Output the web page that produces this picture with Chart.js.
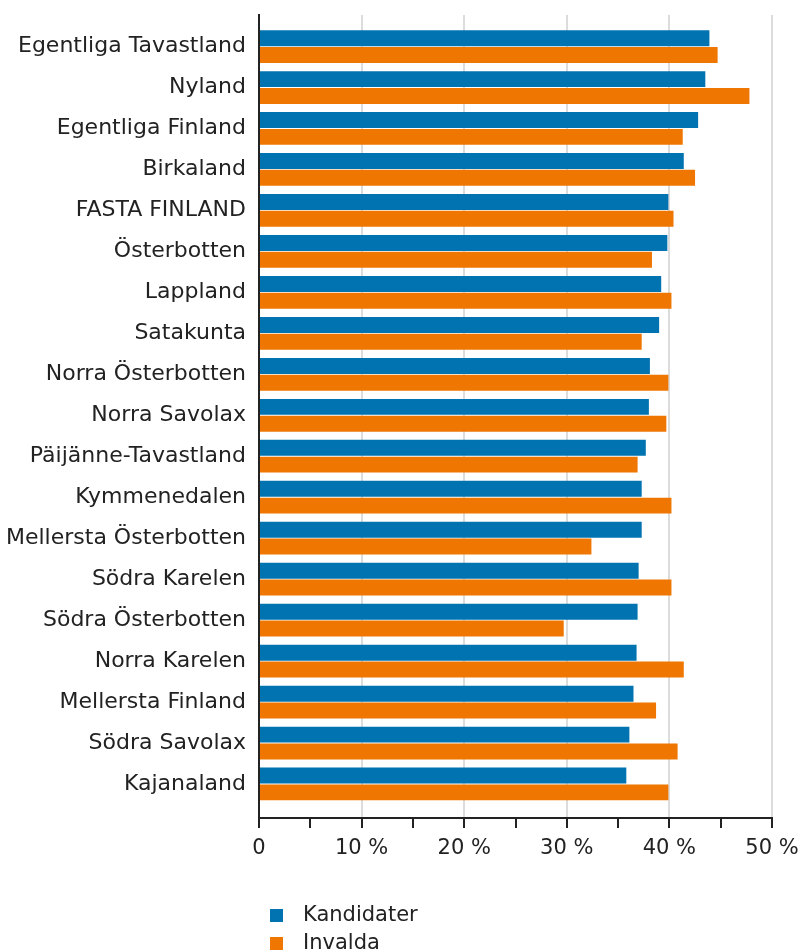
<!DOCTYPE html>
<html lang="sv">
<head>
<meta charset="UTF-8">
<title>Kandidater och invalda</title>
<script src="https://cdn.jsdelivr.net/npm/chart.js"></script>
<style>
    body { margin: 0; background: #fff; }
    .wrap { position: relative; width: 799px; height: 952px; }
    .legend { position: absolute; left: 270px; top: 900px; font-family: "DejaVu Sans", sans-serif; font-size: 21px; color: #222; }
    .legend div { height: 28px; line-height: 28px; white-space: nowrap; }
    .legend span { display: inline-block; width: 13px; height: 13px; margin-right: 20px; vertical-align: -1px; }
</style>
</head>
<body>
<div class="wrap">
    <canvas id="chart_val" width="799" height="952"></canvas>
    <div class="legend" id="legenda"></div>
</div>

<script>
// landskap, sorterade som i originalet
var landskap = ['Egentliga Tavastland', 'Nyland', 'Egentliga Finland', 'Birkaland', 'FASTA FINLAND',
    'Österbotten', 'Lappland', 'Satakunta', 'Norra Österbotten', 'Norra Savolax', 'Päijänne-Tavastland',
    'Kymmenedalen', 'Mellersta Österbotten', 'Södra Karelen', 'Södra Österbotten', 'Norra Karelen',
    'Mellersta Finland', 'Södra Savolax', 'Kajanaland'];

// andel kvinnor, %
var kandidater = [43.9, 43.5, 42.8, 41.4, 39.9, 39.8, 39.2, 39.0, 38.1, 38.0, 37.7, 37.3, 37.3, 37.0, 36.9, 36.8, 36.5, 36.1, 35.8];
var invalda = [44.7, 47.8, 41.3, 42.5, 40.4, 38.3, 40.2, 37.3, 39.9, 39.7, 36.9, 40.2, 32.4, 40.2, 29.7, 41.4, 38.7, 40.8, 39.9];

var serier = ['Kandidater', 'Invalda'];
var farger = ['#0073b0', '#ee7601'];
var xTicks = [0, 10, 20, 30, 40, 50];

function punkter(lista) {
    return lista.map(function (v, i) { return { x: v, y: i }; });
}

const config_val = {
    type: 'bar',
    data: {
        datasets: [
            { label: serier[0], data: punkter(kandidater), backgroundColor: farger[0] },
            { label: serier[1], data: punkter(invalda), backgroundColor: farger[1] }
        ]
    },
    options: {
        indexAxis: 'y',
        responsive: false,
        animation: false,
        categoryPercentage: 0.82,
        barPercentage: 0.95,
        layout: { padding: { top: 15, right: 27, left: 0, bottom: 0 } },
        plugins: { legend: { display: false }, tooltip: { enabled: false } },
        scales: {
            x: {
                min: 0,
                max: 50,
                afterFit: function (s) { s.height = 134; s.paddingLeft = 0; s.paddingRight = 0; },
                ticks: {
                    stepSize: 5,
                    autoSkip: false,
                    maxRotation: 0,
                    padding: 8,
                    color: '#222',
                    font: { family: 'DejaVu Sans', size: 21 },
                    callback: function (v) {
                        if (xTicks.indexOf(v) < 0) return '';
                        return v === 0 ? '0' : v + ' %';
                    }
                },
                grid: {
                    color: function (c) {
                        return (c.tick && c.tick.value % 10 === 0 && c.tick.value > 0) ? '#dcdcdc' : 'rgba(0,0,0,0)';
                    },
                    lineWidth: 2,
                    tickColor: '#222',
                    tickLength: 10,
                    tickWidth: 2
                },
                border: { color: '#222', width: 2 }
            },
            y: {
                type: 'linear',
                reverse: true,
                offset: false,
                min: -0.77,
                max: 18.83,
                afterFit: function (s) { s.width = 259; s.paddingTop = 0; s.paddingBottom = 0; },
                afterBuildTicks: function (s) {
                    s.ticks = landskap.map(function (n, i) { return { value: i }; });
                },
                ticks: {
                    padding: 13,
                    color: '#222',
                    font: { family: 'DejaVu Sans', size: 22 },
                    callback: function (v) { return landskap[v]; }
                },
                grid: { display: false, drawTicks: false, offset: false },
                border: { color: '#222', width: 2 }
            }
        }
    }
};

const chart_val = new Chart(document.getElementById('chart_val'), config_val);

// legend under diagrammet, en rad per serie
var legenda = document.getElementById('legenda');
for (var i = 0; i < serier.length; i++) {
    legenda.innerHTML += '<div><span style="background:' + farger[i] + '"></span>' + serier[i] + '</div>';
}
</script>
</body>
</html>
